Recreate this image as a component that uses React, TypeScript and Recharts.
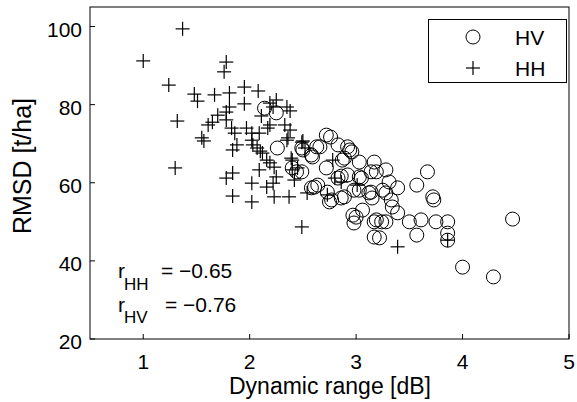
import { ScatterChart, Scatter, XAxis, YAxis, Customized } from "recharts";

// HH polarisation (plus markers): dynamic range [dB], RMSD [t/ha]
const hhRange = [
  1.0, 1.37, 1.24, 1.32, 1.3, 1.48, 1.51, 1.67, 1.81, 1.95, 2.08, 1.78, 1.76, 1.81, 1.95, 1.78,
  1.7, 1.65, 1.61, 1.78, 1.83, 1.55, 1.57, 1.86, 1.97, 2.02, 2.09, 1.88, 1.84, 2.02, 2.03, 2.07,
  2.1, 2.17, 2.19, 2.25, 2.35, 2.38, 2.19, 2.38, 2.35, 2.5, 2.12, 2.16, 2.19, 2.23, 2.25, 2.4,
  2.4, 2.42, 2.22, 1.78, 1.84, 1.84, 2.02, 2.02, 2.16, 2.23, 2.49, 2.37, 2.54, 2.73, 2.33, 2.36,
  2.49, 2.52, 2.39, 2.45, 2.78, 2.8, 2.86, 3.01, 3.39, 3.86, 2.09, 2.22, 2.11,
];
const hhRmsd = [
  91.2, 99.4, 85.0, 75.8, 63.8, 82.7, 80.9, 82.5, 83.0, 84.5, 83.5, 90.9, 88.4, 79.4, 80.2, 78.1,
  77.3, 75.5, 74.8, 76.1, 74.0, 71.5, 70.7, 72.7, 74.0, 72.7, 72.7, 69.7, 68.4, 70.9, 69.7, 68.9,
  68.1, 74.0, 80.4, 81.2, 79.4, 78.4, 74.8, 73.5, 70.9, 70.7, 67.6, 65.8, 65.1, 64.0, 61.5, 65.8,
  63.3, 60.7, 59.9, 61.2, 62.5, 56.6, 59.9, 55.1, 58.9, 56.4, 48.7, 56.4, 57.4, 56.9, 74.8, 71.5,
  70.4, 68.9, 66.3, 63.8, 65.8, 61.2, 60.2, 59.4, 43.6, 45.3, 63.3, 79.4, 77.1,
];

// HV polarisation (circle markers)
const hvRange = [
  2.14, 2.25, 2.26, 2.49, 2.59, 2.72, 2.76, 2.66, 2.58, 2.83, 2.92, 2.96, 2.87, 3.03, 3.17, 2.72,
  2.83, 2.86, 2.92, 3.03, 3.14, 3.19, 3.28, 3.67, 3.57, 3.72, 3.73, 3.31, 3.39, 2.61, 2.73, 2.75,
  2.89, 3.03, 3.12, 3.15, 3.25, 3.33, 3.34, 3.39, 3.06, 2.97, 2.98, 3.19, 3.24, 3.28, 3.5, 3.61,
  3.75, 3.86, 3.57, 3.86, 3.86, 4.47, 4.0, 4.29, 3.22, 3.28, 2.4, 2.49, 2.5, 2.63, 2.94, 2.89,
  3.05, 2.44, 2.64, 2.58, 2.77, 2.86, 3.0, 3.17, 3.17, 3.14, 2.98,
];
const hvRmsd = [
  79.1, 77.9, 68.9, 68.9, 66.6, 72.2, 71.7, 69.2, 67.1, 69.7, 69.2, 67.9, 65.8, 65.3, 65.3, 63.8,
  61.2, 61.7, 62.0, 61.5, 62.8, 62.8, 63.3, 62.8, 59.4, 56.4, 55.6, 60.2, 58.7, 58.9, 57.6, 55.1,
  56.4, 58.1, 57.4, 56.1, 58.1, 55.6, 53.8, 52.3, 53.0, 51.7, 49.7, 50.5, 50.0, 50.0, 50.0, 50.5,
  50.0, 50.0, 46.6, 47.1, 45.3, 50.7, 38.4, 35.9, 45.9, 57.4, 63.8, 62.8, 68.4, 69.2, 68.4, 66.3,
  61.2, 62.8, 59.4, 58.7, 55.6, 56.1, 51.2, 50.0, 46.1, 57.6, 58.1,
];

const xTicks = [1, 2, 3, 4, 5];
const yTicks = [20, 40, 60, 80, 100];

const hhData = hhRange.map((x, i) => ({ x, y: hhRmsd[i] }));
const hvData = hvRange.map((x, i) => ({ x, y: hvRmsd[i] }));

const FONT = "'Liberation Sans', Arial, Helvetica, sans-serif";
const TOP = 7;
const BOTTOM = 339;
const LEFT = 90;
const RIGHT = 569;
const TICK = 5;

const Circle = (props: any) => (
  <circle cx={props.cx} cy={props.cy} r={7} fill="none" stroke="#000" strokeWidth={1} />
);

const Plus = (props: any) => (
  <g stroke="#000" strokeWidth={1.2}>
    <line x1={props.cx - 7} x2={props.cx + 7} y1={props.cy} y2={props.cy} />
    <line x1={props.cx} x2={props.cx} y1={props.cy - 7} y2={props.cy + 7} />
  </g>
);

const BottomTick = (props: any) => (
  <g>
    <line x1={props.x} x2={props.x} y1={BOTTOM} y2={BOTTOM - TICK} stroke="#000" />
    <text x={props.x} y={BOTTOM + 30} textAnchor="middle" fontSize={21} fontFamily={FONT} fill="#000">
      {props.payload.value}
    </text>
  </g>
);

const TopTick = (props: any) => (
  <line x1={props.x} x2={props.x} y1={TOP} y2={TOP + TICK} stroke="#000" />
);

const LeftTick = (props: any) => (
  <g>
    <line x1={LEFT} x2={LEFT + TICK} y1={props.y} y2={props.y} stroke="#000" />
    <text x={82} y={props.y + 10} textAnchor="end" fontSize={21} fontFamily={FONT} fill="#000">
      {props.payload.value}
    </text>
  </g>
);

const RightTick = (props: any) => (
  <line x1={RIGHT} x2={RIGHT - TICK} y1={props.y} y2={props.y} stroke="#000" />
);

// box frame, legend, axis titles and the correlation note
const Overlay = () => (
  <g fontFamily={FONT} fill="#000">
    <rect x={LEFT} y={TOP} width={RIGHT - LEFT} height={BOTTOM - TOP} fill="none" stroke="#000" />

    <rect x={428.5} y={19.5} width={138} height={63} fill="#fff" stroke="#000" />
    <circle cx={473} cy={37} r={7} fill="none" stroke="#000" />
    <text x={515} y={45} fontSize={21}>HV</text>
    <g stroke="#000" strokeWidth={1.2}>
      <line x1={466} x2={480} y1={68} y2={68} />
      <line x1={473} x2={473} y1={61} y2={75} />
    </g>
    <text x={515} y={76} fontSize={21}>HH</text>

    <text x={330} y={394} fontSize={23} textAnchor="middle">Dynamic range [dB]</text>
    <text x={31} y={166} fontSize={25} textAnchor="middle" transform="rotate(-90 31 166)">
      RMSD [t/ha]
    </text>

    <text x={118} y={278} fontSize={21}>r</text>
    <text x={124} y={290} fontSize={17}>HH</text>
    <text x={161} y={278} fontSize={21}>= −0.65</text>
    <text x={118} y={312} fontSize={21}>r</text>
    <text x={124} y={323} fontSize={17}>HV</text>
    <text x={165} y={312} fontSize={21}>= −0.76</text>
  </g>
);

export default function App() {
  return (
    <div style={{ position: "absolute", left: 0, top: 0, background: "#fff" }}>
      <ScatterChart width={577} height={402} margin={{ top: TOP, right: 8, bottom: 0, left: 0 }}>
        <XAxis
          type="number"
          dataKey="x"
          domain={[0.5, 5]}
          ticks={xTicks}
          height={63}
          axisLine={false}
          tickLine={false}
          tick={BottomTick}
        />
        <XAxis
          xAxisId="top"
          orientation="top"
          type="number"
          dataKey="x"
          domain={[0.5, 5]}
          ticks={xTicks}
          height={0}
          axisLine={false}
          tickLine={false}
          tick={TopTick}
        />
        <YAxis
          type="number"
          dataKey="y"
          domain={[20, 105]}
          ticks={yTicks}
          width={90}
          axisLine={false}
          tickLine={false}
          tick={LeftTick}
        />
        <YAxis
          yAxisId="right"
          orientation="right"
          type="number"
          dataKey="y"
          domain={[20, 105]}
          ticks={yTicks}
          width={0}
          axisLine={false}
          tickLine={false}
          tick={RightTick}
        />
        <Scatter name="HV" data={hvData} shape={Circle} isAnimationActive={false} />
        <Scatter name="HH" data={hhData} shape={Plus} isAnimationActive={false} />
        <Customized component={Overlay} />
      </ScatterChart>
    </div>
  );
}
